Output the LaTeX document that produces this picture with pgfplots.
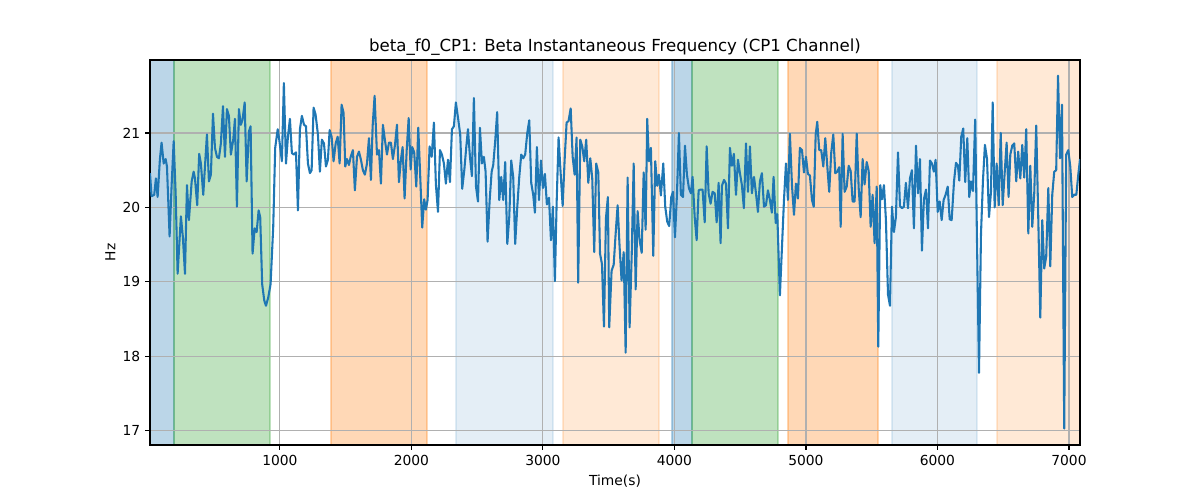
\documentclass[border=0pt]{standalone}
\usepackage{fontspec}
\setmainfont{DejaVu Sans}
\usepackage{pgfplots}
\pgfplotsset{compat=1.18}
\usepackage{pgfplotstable}
\definecolor{tabblue}{RGB}{31,119,180}
\definecolor{tabgreen}{RGB}{44,160,44}
\definecolor{taborange}{RGB}{255,127,14}
\definecolor{gridgray}{RGB}{176,176,176}

\pgfplotstableread{
x y
12 20.46
24 20.15
44 20.17
57 20.39
70 20.14
87 20.64
100 20.87
116 20.59
131 20.65
141 20.55
161 19.61
176 20.28
192 20.89
207 20.19
222 19.11
247 19.88
262 19.60
278 19.11
293 20.30
308 19.83
329 20.35
344 20.48
354 20.39
371 20.03
386 20.72
399 20.59
417 20.17
430 20.55
445 20.98
460 20.35
475 20.44
491 21.26
506 20.80
521 20.68
536 20.66
551 20.86
567 21.36
582 20.68
597 21.32
612 21.23
627 20.71
645 20.91
658 21.19
673 20.01
688 21.32
703 21.11
716 21.18
732 21.41
747 20.35
764 21.02
777 21.09
792 19.38
808 19.72
823 19.67
838 19.96
850 19.87
865 18.97
881 18.75
894 18.68
911 18.79
929 18.97
949 19.74
964 20.80
983 21.05
995 20.91
1015 20.62
1030 21.67
1046 20.59
1061 20.95
1076 21.19
1091 20.73
1106 20.71
1122 20.74
1137 19.96
1152 21.05
1167 21.23
1183 21.11
1198 21.09
1213 20.59
1228 20.46
1241 20.50
1256 21.34
1271 21.25
1289 20.98
1304 20.48
1319 20.91
1335 20.86
1350 20.55
1365 20.64
1378 21.04
1393 20.95
1408 20.62
1424 20.86
1439 20.95
1454 20.59
1469 21.38
1484 21.27
1497 20.55
1510 20.65
1525 20.57
1538 20.68
1555 20.77
1570 20.23
1586 20.68
1601 20.75
1616 20.64
1631 20.50
1646 20.44
1662 20.59
1677 20.93
1692 20.37
1705 21.09
1720 21.50
1738 20.71
1753 20.77
1768 20.32
1783 21.11
1798 20.91
1814 20.71
1829 20.87
1844 20.87
1859 20.65
1875 20.84
1890 21.11
1905 20.34
1920 20.64
1933 20.81
1948 20.12
1964 20.77
1979 21.20
1994 20.51
2006 20.81
2021 20.74
2037 20.28
2052 21.07
2067 20.41
2082 19.73
2097 20.11
2110 19.97
2123 20.10
2138 20.82
2154 20.68
2171 21.14
2186 20.31
2202 19.94
2217 20.77
2232 20.71
2247 20.59
2262 20.32
2278 20.64
2293 20.34
2308 21.05
2323 21.09
2338 21.41
2356 21.18
2371 20.98
2386 20.25
2402 20.50
2417 20.81
2430 21.05
2445 20.68
2460 20.42
2475 21.47
2491 20.28
2506 20.08
2521 21.07
2536 20.59
2551 20.68
2564 20.48
2579 19.54
2595 20.10
2610 20.48
2622 20.57
2637 20.89
2652 21.28
2668 20.10
2683 20.41
2698 20.10
2713 20.61
2729 19.51
2744 19.87
2759 20.63
2774 20.41
2789 19.51
2805 20.01
2820 20.41
2835 20.71
2850 20.66
2865 20.71
2881 21.00
2896 21.17
2911 20.33
2926 20.17
2939 19.93
2954 20.81
2970 20.10
2985 20.63
3000 20.26
3015 20.45
3030 20.04
3046 20.13
3061 19.56
3076 20.01
3091 19.01
3104 20.05
3119 20.94
3135 20.45
3150 20.02
3165 20.64
3180 21.14
3195 21.16
3211 21.33
3226 20.68
3241 20.44
3256 20.94
3268 18.99
3284 20.91
3299 20.82
3314 20.62
3329 20.91
3345 20.33
3360 20.66
3375 20.39
3390 19.40
3405 20.59
3421 20.47
3434 19.38
3449 19.24
3464 18.40
3479 19.85
3494 20.14
3504 18.39
3522 19.15
3538 19.23
3553 19.65
3568 20.03
3583 19.47
3598 19.02
3614 19.40
3629 18.05
3644 20.40
3659 18.39
3675 19.36
3690 20.59
3705 18.90
3720 19.95
3735 19.56
3751 19.39
3766 20.47
3781 19.70
3793 21.19
3806 20.62
3821 20.80
3839 19.35
3854 20.62
3869 20.29
3882 20.44
3897 20.16
3915 20.59
3930 20.01
3945 19.81
3960 19.75
3976 20.14
3989 20.21
4004 19.60
4019 20.17
4034 21.00
4049 20.17
4065 20.14
4080 20.83
4095 20.44
4110 20.26
4125 20.19
4138 20.41
4154 19.87
4169 19.56
4184 20.23
4199 20.24
4214 20.24
4230 19.80
4245 20.82
4260 20.19
4275 20.05
4290 20.21
4306 20.19
4321 19.80
4336 20.33
4351 19.52
4361 20.29
4377 20.37
4392 20.32
4407 19.72
4422 20.80
4437 20.56
4452 20.72
4468 20.17
4483 20.64
4498 20.46
4513 20.30
4528 19.99
4544 20.86
4559 20.21
4574 20.82
4589 20.19
4605 20.41
4620 20.19
4635 19.94
4650 20.35
4665 20.46
4681 20.01
4696 20.03
4711 20.23
4726 20.10
4741 19.93
4754 20.41
4770 19.79
4782 19.91
4802 18.82
4818 19.48
4833 20.10
4848 20.59
4863 20.10
4878 20.99
4894 20.29
4909 19.90
4924 20.32
4939 20.12
4954 20.80
4970 20.77
4985 20.47
5000 20.68
5015 20.45
5030 20.43
5046 20.10
5059 20.01
5074 20.98
5086 21.15
5101 20.77
5116 20.77
5132 20.55
5147 20.93
5162 20.56
5177 20.21
5192 20.73
5208 20.98
5223 20.46
5238 20.48
5253 20.54
5264 19.74
5279 20.99
5294 20.21
5310 20.28
5325 20.56
5340 20.49
5355 20.08
5370 20.08
5386 20.99
5401 20.26
5416 19.87
5431 20.65
5446 20.31
5462 20.61
5477 20.49
5492 19.74
5507 20.17
5522 19.52
5538 20.28
5550 18.13
5565 20.30
5578 20.11
5593 20.30
5608 19.84
5624 18.83
5639 18.68
5654 20.01
5669 19.67
5684 19.87
5700 20.74
5715 20.02
5730 19.99
5745 20.01
5760 20.33
5776 19.99
5791 20.39
5806 20.50
5821 19.72
5837 20.83
5852 20.19
5867 20.65
5882 19.42
5897 20.11
5913 20.24
5928 19.72
5943 20.63
5958 20.59
5973 20.48
5986 20.64
6002 19.94
6017 20.08
6032 19.83
6047 20.10
6062 20.17
6078 20.28
6093 19.84
6108 19.83
6126 20.35
6141 20.60
6156 20.56
6166 20.36
6181 20.95
6196 21.06
6211 20.34
6227 20.93
6242 20.14
6255 20.35
6270 20.22
6287 21.18
6300 19.64
6316 17.78
6331 19.64
6346 20.36
6361 20.84
6377 20.65
6392 19.87
6407 20.21
6420 21.41
6435 20.00
6450 20.59
6466 20.03
6481 21.00
6496 20.03
6511 20.46
6526 20.87
6541 20.14
6554 20.71
6569 20.83
6584 20.86
6599 20.35
6614 20.75
6630 20.39
6645 20.84
6660 20.40
6675 21.05
6691 19.65
6706 20.56
6721 19.74
6736 20.19
6751 21.10
6767 19.83
6782 18.52
6797 19.83
6812 19.18
6827 19.34
6843 20.26
6858 19.21
6873 20.17
6888 20.48
6903 20.50
6917 21.77
6932 20.66
6947 21.38
6964 17.03
6979 20.71
6995 20.77
7010 20.55
7025 20.14
7040 20.17
7056 20.17
7071 20.44
7084 20.65
}\datatable

\newcommand{\vband}[4]{\addplot[on layer=axis background, draw=#3, fill=#3, opacity=#4, line width=1pt] coordinates {(#1,16.81) (#2,16.81) (#2,21.98) (#1,21.98) (#1,16.81)};}

\begin{document}
\begin{tikzpicture}
\begin{axis}[
  set layers,
  at={(0,0)}, anchor=south west,
  scale only axis, width=9.3in, height=3.85in,
  xmin=12, xmax=7084, ymin=16.81, ymax=21.98,
  xtick={1000,2000,3000,4000,5000,6000,7000},
  ytick={17,18,19,20,21},
  xtick pos=bottom, ytick pos=left,
  scaled ticks=false,
  /pgf/number format/assume math mode=true,
  /pgf/number format/1000 sep={},
  grid=major,
  major grid style={draw=gridgray, line width=0.8pt},
  axis line style={line width=0.8pt},
  tick align=outside,
  major tick length=3.5pt,
  tick style={black, line width=0.8pt},
  tick label style={font=\fontsize{10}{12}\selectfont},
  label style={font=\fontsize{10}{12}\selectfont},
  title={beta\_f0\_CP1: Beta Instantaneous Frequency (CP1 Channel)},
  title style={font=\fontsize{12}{14}\selectfont, at={(axis description cs:0.5,1)}, anchor=base},
  xlabel={Time(s)},
  ylabel={Hz},
  xlabel style={at={(axis description cs:0.5,0)}, anchor=base, yshift=-29.5pt},
  ylabel style={at={(axis description cs:0,0.5)}, anchor=base, rotate=0, yshift=25pt},
]
\vband{12}{194}{tabblue}{0.3}
\vband{194}{924}{tabgreen}{0.3}
\vband{1388}{2118}{taborange}{0.3}
\vband{2338}{3076}{tabblue}{0.12}
\vband{3152}{3882}{taborange}{0.17}
\vband{3981}{4133}{tabblue}{0.3}
\vband{4133}{4787}{tabgreen}{0.3}
\vband{4863}{5548}{taborange}{0.3}
\vband{5654}{6300}{tabblue}{0.12}
\vband{6453}{7084}{taborange}{0.17}
\addplot[tabblue, line width=1.5pt, line join=round, mark=none] table {\datatable};
\end{axis}
\pgfresetboundingbox
\path[use as bounding box] (-1.5in,-0.55in) rectangle (10.5in,4.45in);
\end{tikzpicture}
\end{document}
